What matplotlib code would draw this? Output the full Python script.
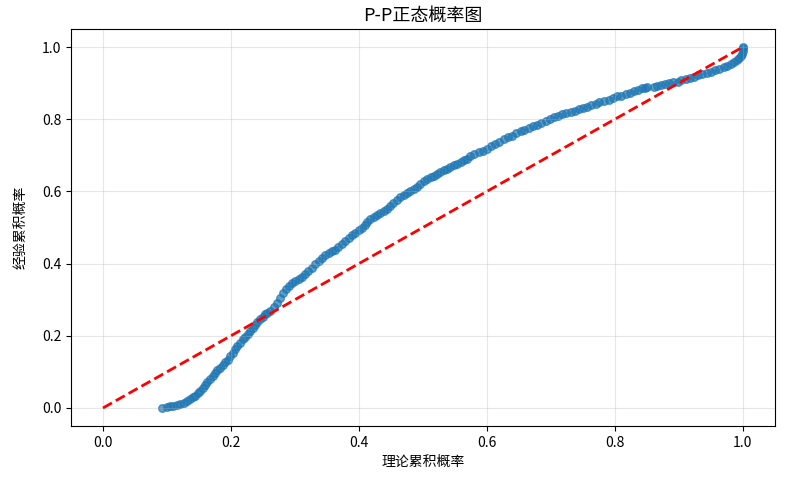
import matplotlib
matplotlib.use("Agg")
import matplotlib.pyplot as plt

plt.rcParams["font.family"] = ["Noto Sans CJK SC", "DejaVu Sans"]
plt.rcParams["axes.unicode_minus"] = False

theoretical = [
    0.093, 0.0997, 0.105, 0.110, 0.115, 0.1205, 0.126, 0.131, 0.136, 0.140,
    0.144, 0.148, 0.152, 0.156, 0.160, 0.163, 0.167, 0.172, 0.175, 0.179,
    0.183, 0.187, 0.191, 0.195, 0.199, 0.203, 0.207, 0.210, 0.214, 0.219,
    0.222, 0.226, 0.230, 0.234, 0.238, 0.2415, 0.246, 0.250, 0.254, 0.257,
    0.261, 0.267, 0.272, 0.277, 0.282, 0.286, 0.290, 0.295, 0.300, 0.306,
    0.311, 0.316, 0.321, 0.327, 0.332, 0.337, 0.342, 0.347, 0.353, 0.358,
    0.363, 0.368, 0.374, 0.379, 0.384, 0.389, 0.394, 0.400, 0.405, 0.410,
    0.413, 0.418, 0.423, 0.428, 0.4335, 0.439, 0.444, 0.449, 0.454, 0.460,
    0.465, 0.470, 0.475, 0.480, 0.486, 0.491, 0.496, 0.501, 0.5065, 0.512,
    0.517, 0.522, 0.527, 0.533, 0.538, 0.543, 0.548, 0.554, 0.559, 0.564,
    0.569, 0.574, 0.5806, 0.587, 0.5936, 0.600, 0.6067, 0.613, 0.6197, 0.626,
    0.6327, 0.640, 0.6458, 0.653, 0.6588, 0.666, 0.6718, 0.679, 0.685, 0.692,
    0.698, 0.705, 0.711, 0.718, 0.724, 0.731, 0.737, 0.744, 0.750, 0.757,
    0.763, 0.770, 0.776, 0.783, 0.791, 0.797, 0.804, 0.810, 0.817, 0.823,
    0.830, 0.836, 0.843, 0.8466, 0.851, 0.861, 0.8665, 0.872, 0.878, 0.885,
    0.8915, 0.898, 0.904, 0.911, 0.9175, 0.924, 0.930, 0.937, 0.9437, 0.950,
    0.956, 0.963, 0.970, 0.976, 0.981, 0.986, 0.9906, 0.994, 0.997, 0.9995,
    1.000, 1.000, 1.000,
]
empirical = [
    0.000, 0.003, 0.005, 0.006, 0.008, 0.011, 0.014, 0.019, 0.025, 0.030,
    0.034, 0.041, 0.048, 0.056, 0.064, 0.072, 0.080, 0.088, 0.097, 0.105,
    0.112, 0.120, 0.126, 0.134, 0.143, 0.153, 0.163, 0.172, 0.181, 0.190,
    0.198, 0.206, 0.214, 0.222, 0.229, 0.238, 0.246, 0.253, 0.260, 0.264,
    0.269, 0.281, 0.292, 0.305, 0.318, 0.329, 0.338, 0.345, 0.352, 0.358,
    0.364, 0.371, 0.379, 0.389, 0.398, 0.407, 0.416, 0.424, 0.430, 0.435,
    0.439, 0.446, 0.453, 0.462, 0.472, 0.479, 0.486, 0.493, 0.500, 0.507,
    0.515, 0.524, 0.530, 0.536, 0.541, 0.545, 0.552, 0.559, 0.567, 0.575,
    0.584, 0.591, 0.596, 0.600, 0.607, 0.612, 0.621, 0.628, 0.634, 0.640,
    0.644, 0.649, 0.654, 0.658, 0.663, 0.668, 0.672, 0.677, 0.681, 0.686,
    0.691, 0.698, 0.7035, 0.708, 0.7127, 0.717, 0.7246, 0.732, 0.738, 0.745,
    0.7495, 0.754, 0.7605, 0.766, 0.7707, 0.775, 0.780, 0.785, 0.789, 0.794,
    0.800, 0.806, 0.810, 0.814, 0.8168, 0.820, 0.824, 0.828, 0.8315, 0.835,
    0.839, 0.843, 0.847, 0.851, 0.854, 0.858, 0.863, 0.8655, 0.869, 0.874,
    0.878, 0.882, 0.886, 0.8876, 0.889, 0.890, 0.893, 0.895, 0.898, 0.900,
    0.9025, 0.904, 0.908, 0.911, 0.914, 0.918, 0.922, 0.925, 0.928, 0.932,
    0.9356, 0.939, 0.944, 0.948, 0.952, 0.958, 0.963, 0.969, 0.975, 0.982,
    0.989, 0.996, 1.000,
]
ref_line = [0, 1]

fig, ax = plt.subplots(figsize=(7.85, 4.79), dpi=100)
fig.subplots_adjust(left=0.0904, right=0.987, top=0.9395, bottom=0.1106)

ax.scatter(theoretical, empirical, s=30, alpha=0.7, color="#1f77b4")
ax.plot(ref_line, ref_line, "r--", linewidth=2)

ax.set_title("P-P正态概率图", fontsize=13)
ax.set_xlabel("理论累积概率", fontsize=10)
ax.set_ylabel("经验累积概率", fontsize=10, labelpad=10)
ax.grid(True, alpha=0.3)

fig.savefig("out.png")
